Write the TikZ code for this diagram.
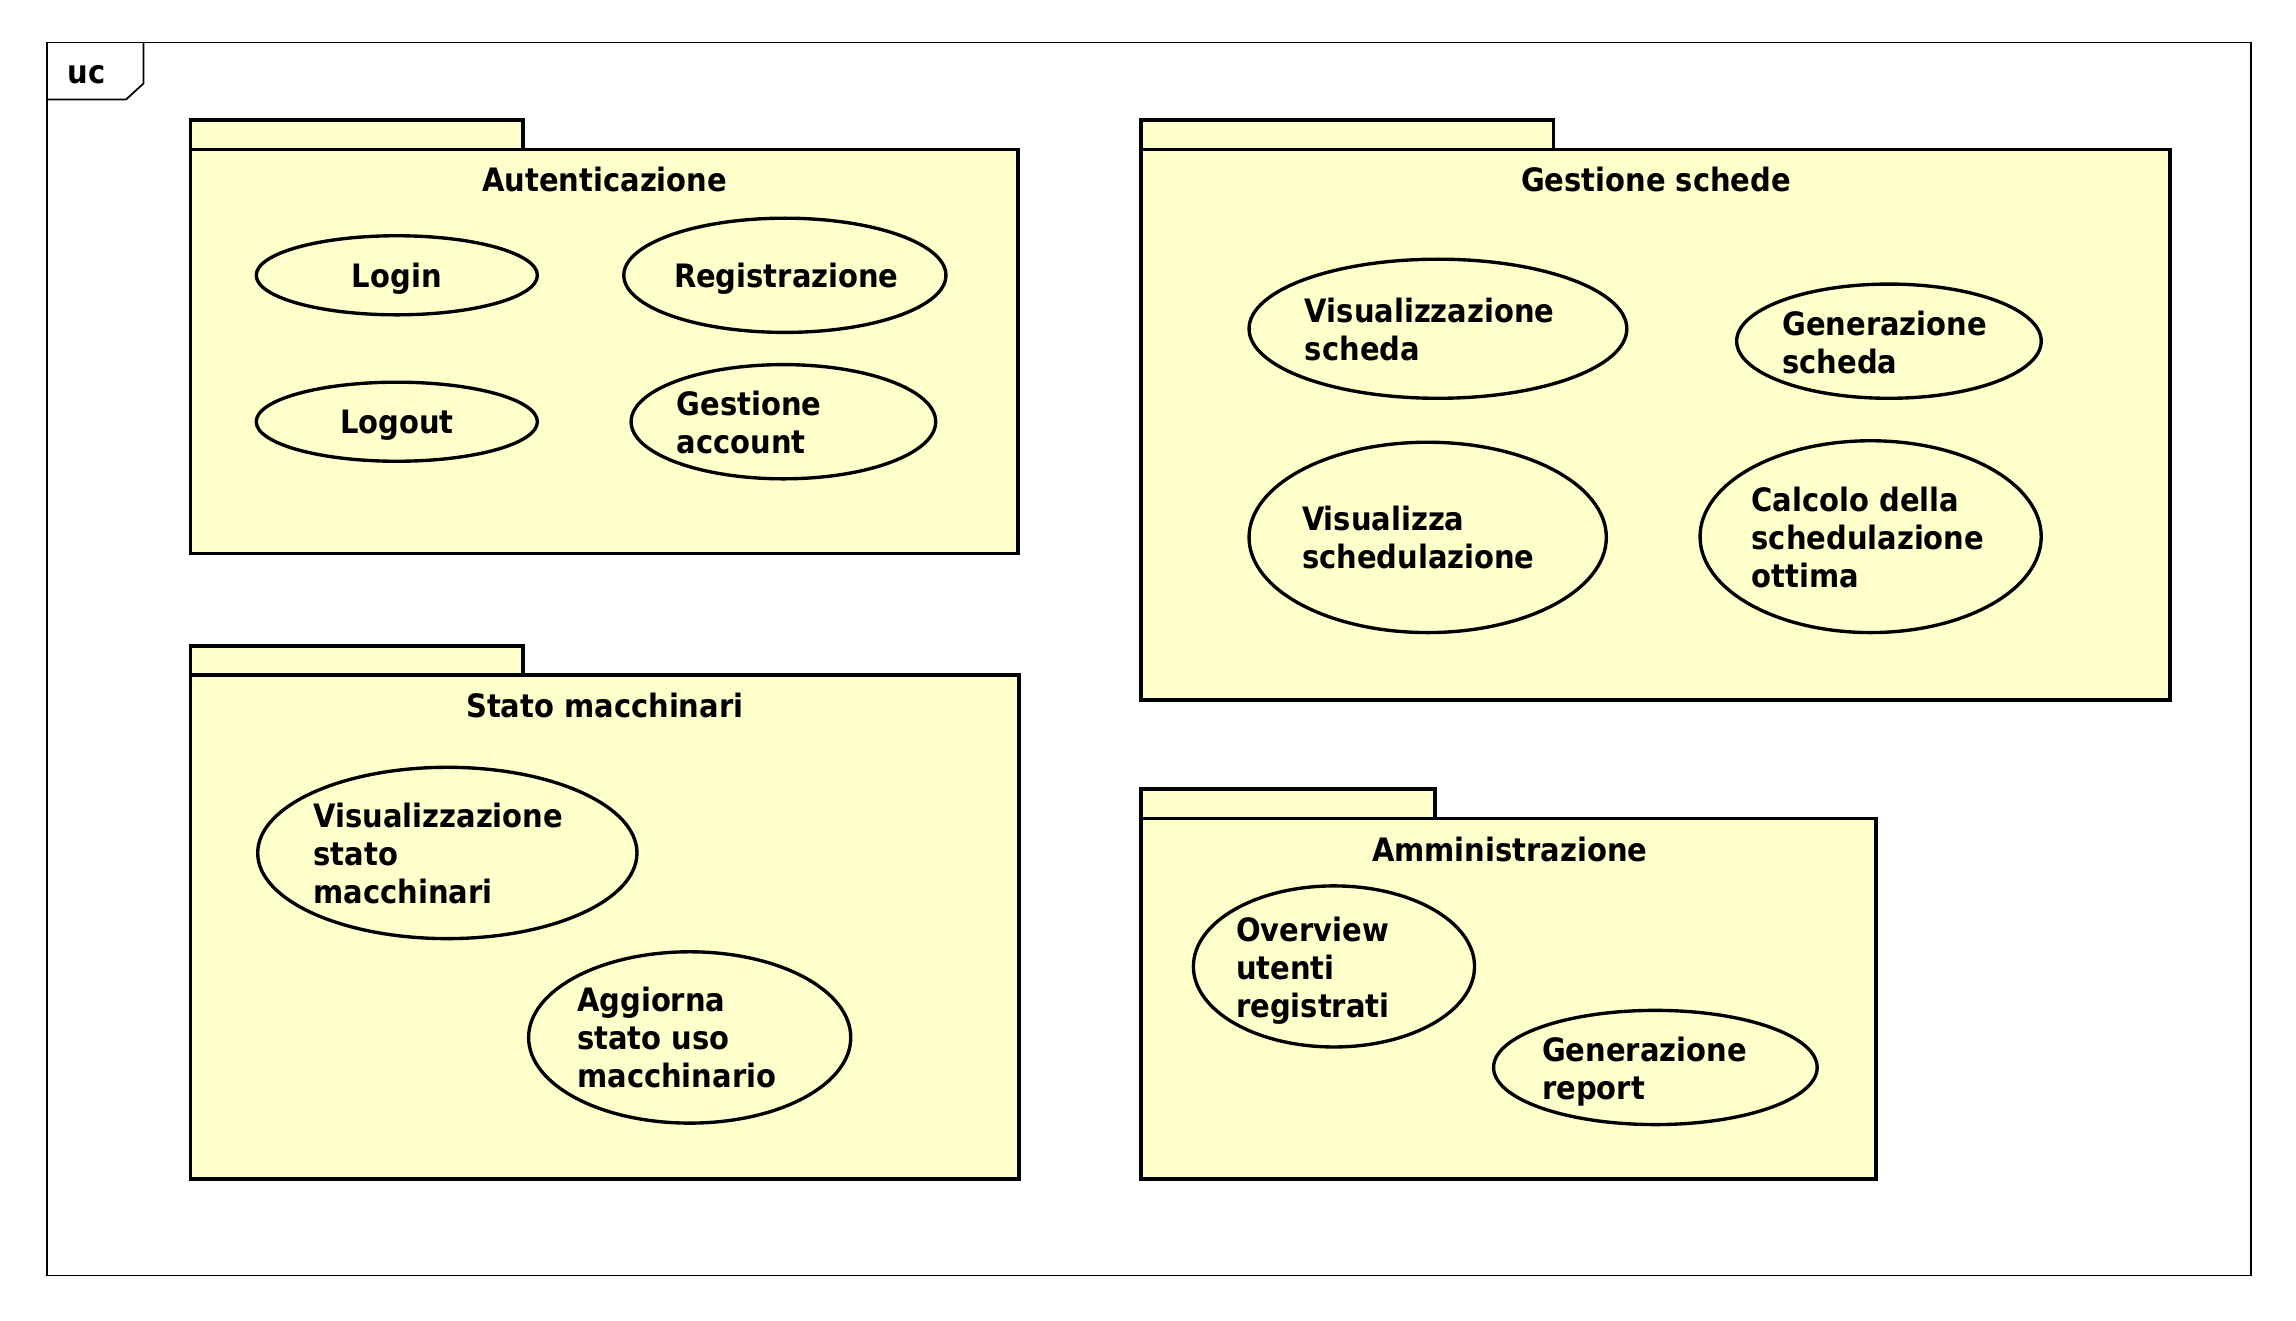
\documentclass[tikz,border=0pt]{standalone}
\usepackage{fontspec}
\setmainfont{DejaVu Sans Condensed}
\usetikzlibrary{shapes.geometric}
\definecolor{pkgfill}{HTML}{FFFFCC}
\begin{document}
\begin{tikzpicture}[x=1pt,y=-1pt,
  font=\fontsize{22}{26}\selectfont\bfseries,
  frame/.style={draw, line width=1.2pt},
  pkg/.style={draw, line width=2.5pt, fill=pkgfill},
  usecase/.style={ellipse, draw, line width=2.3pt, fill=pkgfill, inner sep=0pt, outer sep=0pt},
  lbl/.style={anchor=base west, align=left, inner sep=0pt},
  ctr/.style={anchor=base, inner sep=0pt}]
\useasboundingbox[fill=white] (0,0) rectangle (1568,902);
% outer frame
\draw[frame] (32,29) rectangle (1537,871);
\draw[frame] (32,68) -- (86,68) -- (98,57) -- (98,29);
\node[lbl] (uclabel) at (46,57) {uc};
% Autenticazione
\draw[pkg] (130,82) rectangle (357,102);
\draw[pkg] (130,102) rectangle (695,378);
\node[ctr] (autT) at (413,131) {Autenticazione};
\node[usecase, minimum width=192pt, minimum height=54pt] (login) at (271,188) {};
\node[ctr] (loginT) at (271,196) {Login};
\node[usecase, minimum width=220pt, minimum height=78pt] (reg) at (536,188) {};
\node[ctr] (regT) at (537,196) {Registrazione};
\node[usecase, minimum width=192pt, minimum height=54pt] (logout) at (271,288) {};
\node[ctr] (logoutT) at (271,296) {Logout};
\node[usecase, minimum width=208pt, minimum height=78pt] (gacc) at (535,288) {};
\node[lbl] (gaccT) at (462,310) {Gestione\\account};
% Gestione schede
\draw[pkg] (779,82) rectangle (1061,102);
\draw[pkg] (779,102) rectangle (1482,478);
\node[ctr] (gsT) at (1131,131) {Gestione schede};
\node[usecase, minimum width=258pt, minimum height=95pt] (vsch) at (982,224.5) {};
\node[lbl] (vschT) at (891,246) {Visualizzazione\\scheda};
\node[usecase, minimum width=208pt, minimum height=78pt] (gsch) at (1290,233) {};
\node[lbl] (gschT) at (1217,255) {Generazione\\scheda};
\node[usecase, minimum width=244pt, minimum height=130pt] (vsched) at (975,367) {};
\node[lbl] (vschedT) at (889,388) {Visualizza\\schedulazione};
\node[usecase, minimum width=233pt, minimum height=131pt] (calc) at (1277.5,366.5) {};
\node[lbl] (calcT) at (1196,401) {Calcolo della\\schedulazione\\ottima};
% Stato macchinari
\draw[pkg] (130,441) rectangle (357,461);
\draw[pkg] (130,461) rectangle (696,805);
\node[ctr] (smT) at (413,490) {Stato macchinari};
\node[usecase, minimum width=259pt, minimum height=117pt] (vstato) at (305.5,582.5) {};
\node[lbl] (vstatoT) at (214,617) {Visualizzazione\\stato\\macchinari};
\node[usecase, minimum width=220pt, minimum height=117pt] (aggiorna) at (471,708.5) {};
\node[lbl] (aggiornaT) at (394,743) {Aggiorna\\stato uso\\macchinario};
% Amministrazione
\draw[pkg] (779,539) rectangle (980,559);
\draw[pkg] (779,559) rectangle (1281,805);
\node[ctr] (amT) at (1031,588) {Amministrazione};
\node[usecase, minimum width=192pt, minimum height=110pt] (overview) at (911,660) {};
\node[lbl] (overviewT) at (844,695) {Overview\\utenti\\registrati};
\node[usecase, minimum width=221pt, minimum height=78pt] (report) at (1130.5,729) {};
\node[lbl] (reportT) at (1053,751) {Generazione\\report};
\end{tikzpicture}
\end{document}
